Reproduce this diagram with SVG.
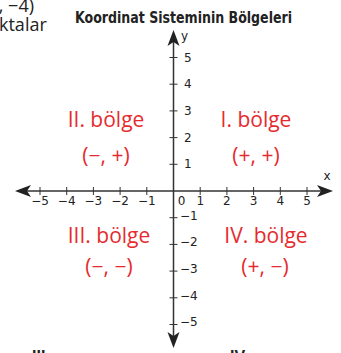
<svg xmlns="http://www.w3.org/2000/svg" width="341" height="353" viewBox="0 0 341 353">
<style>
.ax{stroke:#333;stroke-width:1.5;fill:none}
.tk{stroke:#333;stroke-width:1}
.ah{fill:#222}
.num{font-family:"DejaVu Sans",Verdana,sans-serif;font-size:12px;fill:#222}
.q{font-family:"Open Sans",sans-serif;font-size:21px;fill:#e52b2f;text-anchor:middle}
.blk{font-family:"Open Sans",sans-serif;font-size:18px;fill:#222}
.ttl{font-family:"DejaVu Sans Condensed","DejaVu Sans",sans-serif;font-weight:bold;font-size:15px;fill:#222}
</style>
<rect width="341" height="353" fill="#fff"/>
<g id="partial-text">
<text class="blk" x="34" y="12" text-anchor="end">, −4)</text>
<text class="blk" x="-1" y="31">ktalar</text>
<text x="32" y="362" style="font-family:'Liberation Sans',sans-serif;font-weight:bold;font-size:16px;fill:#222">III.</text>
<text x="230" y="362" style="font-family:'Liberation Sans',sans-serif;font-weight:bold;font-size:16px;fill:#222">IV.</text>
</g>
<g id="title"><text class="ttl" x="75" y="23" textLength="217" lengthAdjust="spacingAndGlyphs">Koordinat Sisteminin Bölgeleri</text></g>
<g id="connectors">
<line class="ax" x1="24" y1="191" x2="325" y2="191"/>
<line class="ax" x1="173.5" y1="39" x2="173.5" y2="339"/>
<polygon class="ah" points="333,191 317,185 321,191 317,197"/>
<polygon class="ah" points="15,191 31,185 27,191 31,197"/>
<polygon class="ah" points="173.5,30 167.5,46 173.5,42 179.5,46"/>
<polygon class="ah" points="173.5,348 167.5,332 173.5,336 179.5,332"/>
<g class="tk">
<line x1="40" y1="187" x2="40" y2="195"/>
<line x1="66.7" y1="187" x2="66.7" y2="195"/>
<line x1="93.4" y1="187" x2="93.4" y2="195"/>
<line x1="120.1" y1="187" x2="120.1" y2="195"/>
<line x1="146.8" y1="187" x2="146.8" y2="195"/>
<line x1="200.2" y1="187" x2="200.2" y2="195"/>
<line x1="226.9" y1="187" x2="226.9" y2="195"/>
<line x1="253.6" y1="187" x2="253.6" y2="195"/>
<line x1="280.3" y1="187" x2="280.3" y2="195"/>
<line x1="307" y1="187" x2="307" y2="195"/>
<line x1="169.5" y1="57.5" x2="177.5" y2="57.5"/>
<line x1="169.5" y1="84.2" x2="177.5" y2="84.2"/>
<line x1="169.5" y1="110.9" x2="177.5" y2="110.9"/>
<line x1="169.5" y1="137.6" x2="177.5" y2="137.6"/>
<line x1="169.5" y1="164.3" x2="177.5" y2="164.3"/>
<line x1="169.5" y1="217.7" x2="177.5" y2="217.7"/>
<line x1="169.5" y1="244.4" x2="177.5" y2="244.4"/>
<line x1="169.5" y1="271.1" x2="177.5" y2="271.1"/>
<line x1="169.5" y1="297.8" x2="177.5" y2="297.8"/>
<line x1="169.5" y1="324.5" x2="177.5" y2="324.5"/>
</g>
</g>
<g id="x-labels" class="num" text-anchor="middle">
<text x="40" y="205" text-anchor="middle">−5</text>
<text x="66.7" y="205" text-anchor="middle">−4</text>
<text x="93.4" y="205" text-anchor="middle">−3</text>
<text x="120.1" y="205" text-anchor="middle">−2</text>
<text x="146.8" y="205" text-anchor="middle">−1</text>
<text x="181.5" y="205" text-anchor="middle">0</text>
<text x="200.2" y="205" text-anchor="middle">1</text>
<text x="226.9" y="205" text-anchor="middle">2</text>
<text x="253.6" y="205" text-anchor="middle">3</text>
<text x="280.3" y="205" text-anchor="middle">4</text>
<text x="307" y="205" text-anchor="middle">5</text>
<text x="327" y="180" text-anchor="middle">x</text>
</g>
<g id="y-labels" class="num">
<text x="181" y="40">y</text>
<text x="184" y="61.5">5</text>
<text x="184" y="88.2">4</text>
<text x="184" y="114.9">3</text>
<text x="184" y="141.6">2</text>
<text x="184" y="168.3">1</text>
<text x="180" y="219.5">−1</text>
<text x="180" y="246.2">−2</text>
<text x="180" y="272.9">−3</text>
<text x="180" y="299.6">−4</text>
<text x="180" y="326.3">−5</text>
</g>
<g id="q1"><text class="q" x="256" y="127">I. bölge</text><text class="q" x="256" y="163">(+, +)</text></g>
<g id="q2"><text class="q" x="106" y="127">II. bölge</text><text class="q" x="106" y="163">(−, +)</text></g>
<g id="q3"><text class="q" x="109" y="243">III. bölge</text><text class="q" x="109" y="274">(−, −)</text></g>
<g id="q4"><text class="q" x="266" y="243">IV. bölge</text><text class="q" x="265" y="274">(+, −)</text></g>
</svg>
